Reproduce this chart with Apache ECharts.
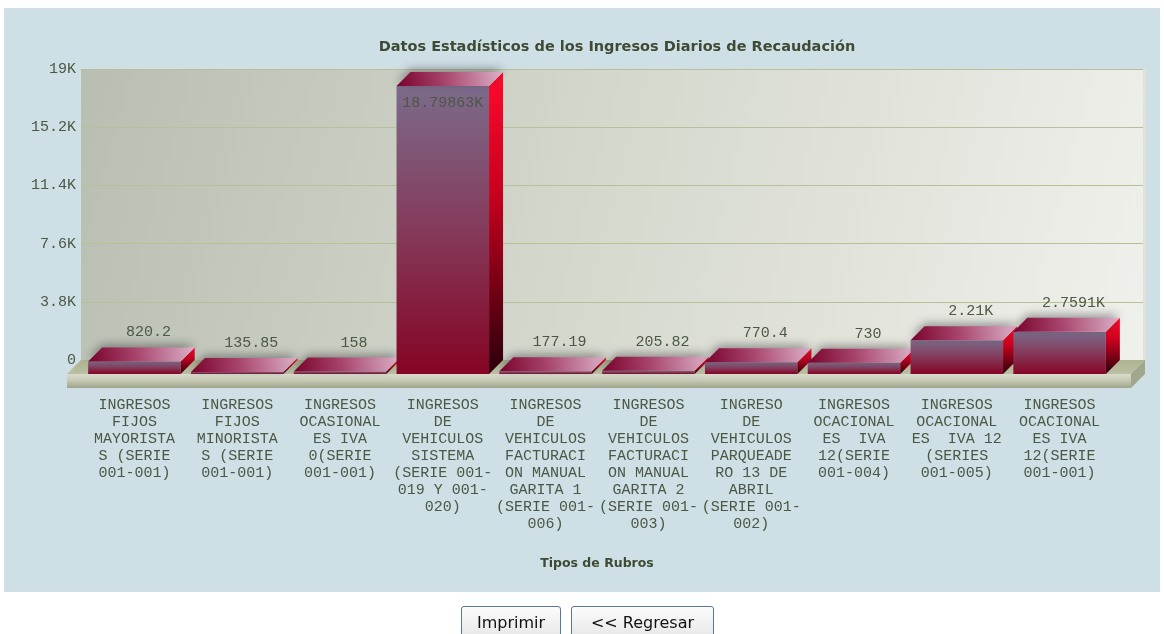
<!DOCTYPE html>
<html>
<head>
<meta charset="utf-8">
<title>Datos Estadísticos</title>
<script src="https://cdn.jsdelivr.net/npm/echarts@6/dist/echarts.min.js"></script>
<style>
body{margin:0;background:#fff;width:1164px;height:634px;overflow:hidden;position:relative}
#panel{position:absolute;left:4px;top:8px;width:1156px;height:584px;background:#cfdfe6}
#chart{position:absolute;left:0;top:0;width:1164px;height:634px}
.btn{position:absolute;top:606px;height:34px;box-sizing:border-box;border:1px solid #58779a;border-radius:3px;
 background:linear-gradient(#fcfcfc,#e6e6e6);font:16px "DejaVu Sans",sans-serif;color:#111;padding:0;line-height:30px;text-align:center}
</style>
</head>
<body>
<div id="panel"></div>
<div id="chart"></div>
<button class="btn" style="left:461px;width:100px">Imprimir</button>
<button class="btn" style="left:571px;width:143px">&lt;&lt; Regresar</button>
<script>
// rubros (cortados en lineas como en el grafico)
var rubros = [
	'INGRESOS\nFIJOS\nMAYORISTA\nS (SERIE\n001-001)',
	'INGRESOS\nFIJOS\nMINORISTA\nS (SERIE\n001-001)',
	'INGRESOS\nOCASIONAL\nES IVA\n0(SERIE\n001-001)',
	'INGRESOS\nDE\nVEHICULOS\nSISTEMA\n(SERIE 001-\n019 Y 001-\n020)',
	'INGRESOS\nDE\nVEHICULOS\nFACTURACI\nON MANUAL\nGARITA 1\n(SERIE 001-\n006)',
	'INGRESOS\nDE\nVEHICULOS\nFACTURACI\nON MANUAL\nGARITA 2\n(SERIE 001-\n003)',
	'INGRESO\nDE\nVEHICULOS\nPARQUEADE\nRO 13 DE\nABRIL\n(SERIE 001-\n002)',
	'INGRESOS\nOCACIONAL\nES  IVA\n12(SERIE\n001-004)',
	'INGRESOS\nOCACIONAL\nES  IVA 12\n(SERIES\n001-005)',
	'INGRESOS\nOCACIONAL\nES IVA\n12(SERIE\n001-001)'
];
// valores recaudados
var valores = [820.2, 135.85, 158, 18798.63, 177.19, 205.82, 770.4, 730, 2210, 2759.1];
// eje y
var yMax = 19000;
var yPaso = 3800;

var DEP = 14; // profundidad 3D
var txtColor = '#4b5844';
var mono = '"Liberation Mono", "DejaVu Sans Mono", monospace';

function fmtK(v){
	if (v == 0) return '0';
	if (v >= 1000) return parseFloat((v/1000).toFixed(6)) + 'K';
	return '' + v;
}

function lg(x0, y0, x1, y1, stops){
	return {type:'linear', x:x0, y:y0, x2:x1, y2:y1,
		colorStops: stops.map(function(s){ return {offset:s[0], color:s[1]}; })};
}

// piso y pared
function drawFloor(params, api){
	var cs = params.coordSys;
	var x0 = cs.x, x1 = cs.x + cs.width;
	var y0 = api.coord([0, 0])[1];
	return {type:'group', children:[
		{type:'polygon', shape:{points:[[x0,y0],[x1,y0],[x1-DEP,y0+DEP],[x0-DEP,y0+DEP]]},
			style:{fill:lg(0,0,0,1,[[0,'#aeb391'],[1,'#bcc0a3']])}},
		{type:'rect', shape:{x:x0-DEP, y:y0+DEP, width:x1-x0, height:DEP},
			style:{fill:lg(0,0,0,1,[[0,'#d9dccd'],[0.5,'#c3c7b1'],[1,'#9ea38a']])}},
		{type:'polygon', shape:{points:[[x1-DEP,y0+DEP],[x1,y0],[x1,y0+DEP],[x1-DEP,y0+2*DEP]]},
			style:{fill:'#a1a78c'}},
		{type:'rect', shape:{x:x1-2, y:cs.y, width:3, height:y0-cs.y},
			style:{fill:'#dfe2d8'}}
	]};
}

// columnas 3D
function drawBar(params, api){
	var i = api.value(0), v = api.value(1);
	var p = api.coord([i, v]);
	var b = api.coord([i, 0]);
	var w = api.size([1, 0])[0] * 0.9;
	var l = p[0] - w/2, r = p[0] + w/2;
	var ft = p[1] + DEP, fb = b[1] + DEP;
	var kids = [
		{type:'rect', shape:{x:l, y:ft, width:w, height:fb-ft},
			style:{fill:lg(0,0,0,1,[[0,'#7c6b8b'],[0.5,'#853a5b'],[1,'#850424']])}},
		{type:'polygon', shape:{points:[[r,ft],[r+DEP,ft-DEP],[r+DEP,fb-DEP],[r,fb]]},
			style:{fill:lg(0,0,0,1,[[0,'#ff0a2c'],[0.4,'#c8001e'],[1,'#2a000c']])}},
		{type:'polygon', shape:{points:[[l,ft],[r,ft],[r+DEP,ft-DEP],[l+DEP,ft-DEP]]},
			style:{fill:lg(0,1,1,0,[[0,'#78022c'],[0.45,'#a8446c'],[1,'#dcb1c8']]),
				shadowBlur:10, shadowColor:'rgba(40,40,40,0.45)', shadowOffsetY:-3}}
	];
	var lx = p[0] + DEP, ly = ft - DEP - 15;
	if (ly < params.coordSys.y) { lx = p[0]; ly = ft + 17; }
	kids.push({type:'text', x:lx, y:ly,
		style:{text:fmtK(v), fill:txtColor, font:'15px ' + mono, align:'center', verticalAlign:'middle'}});
	return {type:'group', children:kids};
}

var myChart = echarts.init(document.getElementById('chart'));
myChart.setOption({
	animation:false,
	title:{
		text:'Datos Estadísticos de los Ingresos Diarios de Recaudación',
		left:612, top:35, textAlign:'center',
		textStyle:{fontFamily:'"DejaVu Sans", sans-serif', fontSize:14.5, fontWeight:'bold', color:'#3e4b34'}
	},
	grid:[
		{left:81, right:19, top:69, bottom:274, show:true, borderWidth:0,
			backgroundColor:lg(0,0,1,1,[[0,'#b9beb2'],[0.5,'#d6d9ce'],[1,'#f0f1ec']])},
		{left:83, right:53, top:69, bottom:274}
	],
	xAxis:[
		{gridIndex:0, type:'value', min:0, max:1, show:false},
		{gridIndex:1, type:'category', data:rubros,
			axisLine:{show:false}, axisTick:{show:false},
			axisLabel:{interval:0, margin:37, color:txtColor, fontFamily:mono, fontSize:15, lineHeight:17},
			name:'Tipos de Rubros', nameLocation:'middle', nameGap:197,
			nameTextStyle:{fontFamily:'"DejaVu Sans", sans-serif', fontSize:12.5, fontWeight:'bold', color:'#3e4b34'}}
	],
	yAxis:[
		{gridIndex:0, type:'value', min:0, max:yMax, interval:yPaso,
			axisLine:{show:false}, axisTick:{show:false},
			axisLabel:{margin:5, color:txtColor, fontFamily:mono, fontSize:15, formatter:fmtK},
			splitLine:{show:true, lineStyle:{color:'#b6c197', width:1}}},
		{gridIndex:1, type:'value', min:0, max:yMax, interval:yPaso, show:false, splitLine:{show:false}}
	],
	series:[
		{type:'custom', name:'piso', xAxisIndex:0, yAxisIndex:0, z:1, silent:true,
			renderItem:drawFloor, data:[[0,0]]},
		{type:'custom', name:'Ingresos', xAxisIndex:1, yAxisIndex:1, z:2,
			renderItem:drawBar,
			data:valores.map(function(v, i){ return [i, v]; })}
	]
});
</script>
</body>
</html>
